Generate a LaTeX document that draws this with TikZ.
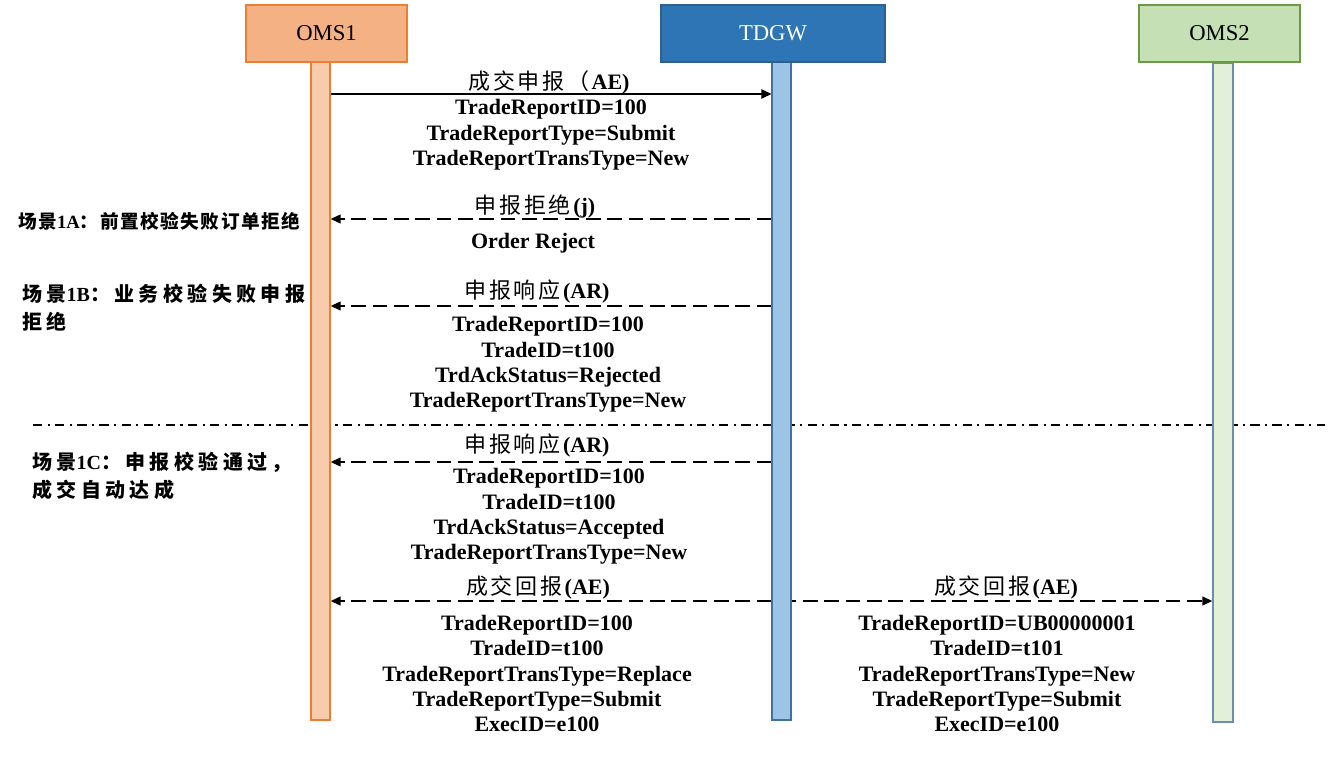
\documentclass[tikz,border=0pt]{standalone}
\usepackage{fontspec}
\setmainfont{Liberation Serif}
\newfontfamily\cjk{Noto Sans CJK SC}[LetterSpace=12]
\newfontfamily\cjkl{Noto Sans CJK SC}[LetterSpace=22]
\newfontfamily\cjks{Noto Sans CJK SC}[LetterSpace=8]
\usetikzlibrary{arrows.meta}
\pgfdeclarelayer{bg}
\pgfsetlayers{bg,main}
\definecolor{oAfill}{HTML}{F4B183}
\definecolor{oAline}{HTML}{F8CBAD}
\definecolor{orng}{HTML}{ED7D31}
\definecolor{tdfill}{HTML}{2E75B6}
\definecolor{tddraw}{HTML}{2F5F8F}
\definecolor{tdline}{HTML}{9DC3E6}
\definecolor{tdlinedraw}{HTML}{41719C}
\definecolor{oBfill}{HTML}{C5E0B4}
\definecolor{oBdraw}{HTML}{6A9A46}
\definecolor{oBline}{HTML}{E2F0D9}
\definecolor{oBlinedraw}{HTML}{6C8EAD}
\begin{document}
\begin{tikzpicture}[x=0.75pt,y=-0.75pt,
  headbox/.style={draw, line width=0.9pt, minimum height=42.75pt, inner sep=0pt,
    font=\fontsize{17}{18}\selectfont},
  lifebox/.style={draw, line width=0.9pt, minimum width=14.25pt, inner sep=0pt},
  msgsolid/.style={line width=0.9pt, -{Triangle[length=7.5pt,width=7pt]}},
  msgdash/.style={line width=1.4pt, dash pattern=on 11pt off 5pt, -{Triangle[length=7.5pt,width=6.5pt]}},
  lbl/.style={inner sep=0pt, font=\fontsize{16.5}{18}\selectfont},
  body/.style={inner sep=0pt, align=center, font=\fontsize{16.5}{19.1}\selectfont\bfseries},
  scen/.style={inner sep=0pt, anchor=west, align=left, font=\fontsize{15}{21}\selectfont\bfseries}
]
\useasboundingbox (0,0) rectangle (1332,760);

% lifelines
\node[lifebox, fill=oAline, draw=orng, minimum height=493.5pt] (o1l) at (320.5,391) {};
\node[lifebox, fill=tdline, draw=tdlinedraw, minimum height=493.5pt] (tdl) at (781.5,391) {};
\node[lifebox, fill=oBline, draw=oBlinedraw, minimum width=15pt, minimum height=494.25pt] (o2l) at (1223,392.5) {};

% headers
\node[headbox, fill=oAfill, draw=orng, minimum width=120.75pt] (o1) at (326.5,33.5) {OMS1};
\node[headbox, fill=tdfill, draw=tddraw, minimum width=168pt, text=white] (td) at (773,33.5) {TDGW};
\node[headbox, fill=oBfill, draw=oBdraw, minimum width=120.75pt] (o2) at (1219.5,33.5) {OMS2};

\begin{pgfonlayer}{bg}
% separator
\draw[line width=1.5pt, dash pattern=on 7pt off 4pt on 1.6pt off 4pt] (33,425) -- (1325,425);
% messages
\draw[msgsolid] (o1l.east |- 0,94) -- (tdl.west |- 0,94);
\draw[msgdash] (tdl.west |- 0,219) -- (o1l.east |- 0,219);
\draw[msgdash] (tdl.west |- 0,306) -- (o1l.east |- 0,306);
\draw[msgdash] (tdl.west |- 0,462) -- (o1l.east |- 0,462);
\draw[msgdash] (tdl.west |- 0,601) -- (o1l.east |- 0,601);
\draw[msgdash] (tdl.center |- 0,601) -- (o2l.west |- 0,601);
\end{pgfonlayer}

% message labels
\node[lbl] (m1) at (549,82) {{\cjk 成交申报（}\textbf{AE)}};
\node[body] (m1b) at (551,135) {TradeReportID=100\\TradeReportType=Submit\\TradeReportTransType=New};

\node[lbl] (m2) at (535,206) {{\cjk 申报拒绝}\textbf{(j)}};
\node[body] (m2b) at (533,243) {Order Reject};

\node[lbl] (m3) at (537,292) {{\cjk 申报响应}\textbf{(AR)}};
\node[body] (m3b) at (548,364.5) {TradeReportID=100\\TradeID=t100\\TrdAckStatus=Rejected\\TradeReportTransType=New};

\node[lbl] (m4) at (537,446) {{\cjk 申报响应}\textbf{(AR)}};
\node[body] (m4b) at (549,516.5) {TradeReportID=100\\TradeID=t100\\TrdAckStatus=Accepted\\TradeReportTransType=New};

\node[lbl] (m5) at (538,587) {{\cjk 成交回报}\textbf{(AE)}};
\node[body] (m5b) at (537,673.5) {TradeReportID=100\\TradeID=t100\\TradeReportTransType=Replace\\TradeReportType=Submit\\ExecID=e100};

\node[lbl] (m6) at (1006,587) {{\cjk 成交回报}\textbf{(AE)}};
\node[body] (m6b) at (997,673.5) {TradeReportID=UB00000001\\TradeID=t101\\TradeReportTransType=New\\TradeReportType=Submit\\ExecID=e100};

% scenarios
\node[scen, font=\fontsize{14}{18}\selectfont\bfseries] (s1) at (18,221) {{\cjks 场景}1A{\cjks ：前置校验失败订单拒绝}};
\node[scen] (s2) at (22,308) {{\cjkl 场景}1B{\cjkl ：业务校验失败申报}\\{\cjkl 拒绝}};
\node[scen] (s3) at (32,476) {{\cjkl 场景}1C{\cjkl ：申报校验通过，}\\{\cjkl 成交自动达成}};
\end{tikzpicture}
\end{document}
